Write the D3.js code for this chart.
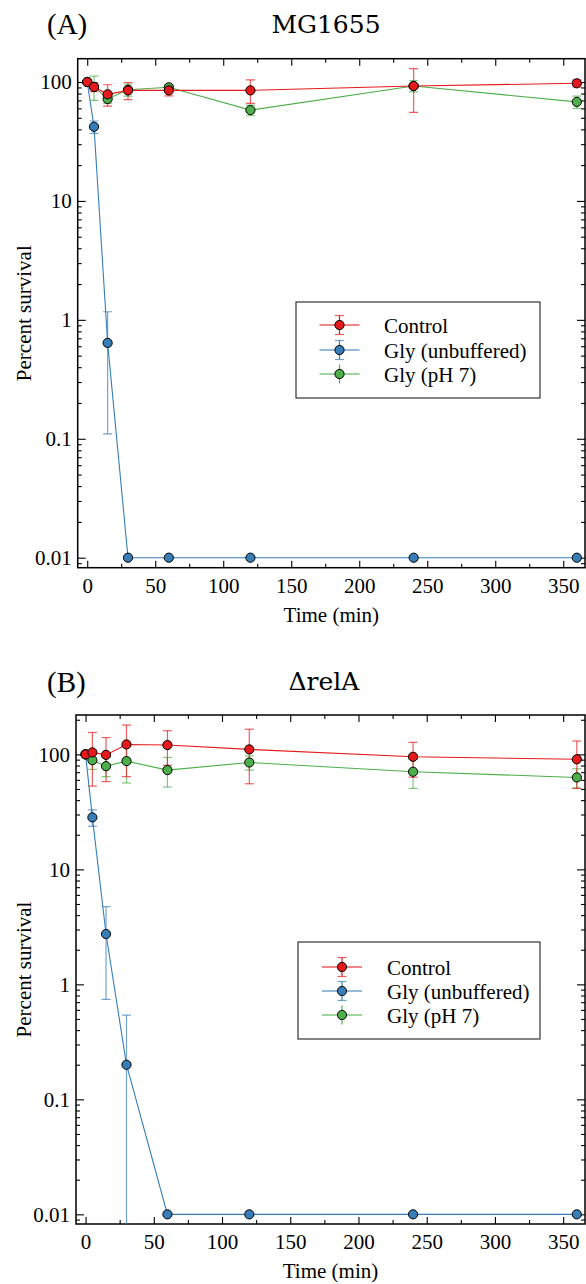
<!DOCTYPE html>
<html>
<head>
<meta charset="utf-8">
<script src="https://cdn.jsdelivr.net/npm/d3@7"></script>
<style>
  body { margin: 0; background: #fff; }
  svg { display: block; }
  text { font-family: "Liberation Serif", "Times New Roman", serif; fill: #000; }
</style>
</head>
<body>
<div id="chart"></div>
<script>
// sampling times (min)
var times = [0, 5, 15, 30, 60, 120, 240, 360];

// panel A: MG1655
var mgControl     = [100, 90.8, 78.8, 85, 85, 85, 92.5, 97.5];
var mgControlSd   = [3, 8, 16, 14, 8.5, 19, 37, 6.5];
var mgGlyUnbuf    = [100, 42, 0.64, 0.01, 0.01, 0.01, 0.01, 0.01];
var mgGlyUnbufSd  = [0, 5, 0.53, 0, 0, 0, 0, 0];
var mgGlyPh7      = [100, 91, 72, 86, 90.2, 58, 92.5, 68];
var mgGlyPh7Sd    = [0, 21, 6, 10, 5, 6, 10, 8];

// panel B: delta relA
var relControl    = [100, 104, 99, 122, 120.5, 110.5, 95.3, 90.6];
var relControlSd  = [3, 51, 41, 58, 40, 55, 32, 40];
var relGlyUnbuf   = [100, 28.3, 2.74, 0.2, 0.01, 0.01, 0.01, 0.01];
var relGlyUnbufSd = [0, 4.6, 2.0, 0.34, 0, 0, 0, 0];
var relGlyPh7     = [100, 89, 79, 87.4, 73, 85, 70.6, 63];
var relGlyPh7Sd   = [0, 15, 15, 31, 21, 12, 20, 12];

var seriesNames = ["Control", "Gly (unbuffered)", "Gly (pH 7)"];
var xTicks = [0, 50, 100, 150, 200, 250, 300, 350];
var xMinorTicks = [25, 75, 125, 175, 225, 275, 325];
var yTicks = [0.01, 0.1, 1, 10, 100];
var yTickLabels = ["0.01", "0.1", "1", "10", "100"];

var colors = ["#e41a1c", "#377eb8", "#4daf4a"];

var svg = d3.select("#chart").append("svg")
    .attr("width", 586)
    .attr("height", 1284);

var panels = [
  { tag: "(A)", title: "MG1655", left: 77.7, right: 585, top: 58.7, bottom: 567.7,
    yMax: 157, titleX: 326, titleY: 33, tagY: 34,
    legend: { x: 296, y: 302, w: 244, h: 96, rows: [325, 350, 374], mx: 339.5, tx: 384 },
    series: [[mgControl, mgControlSd], [mgGlyUnbuf, mgGlyUnbufSd], [mgGlyPh7, mgGlyPh7Sd]] },
  { tag: "(B)", title: "\u0394relA", left: 76, right: 585, top: 715, bottom: 1224,
    yMax: 220, titleX: 324, titleY: 690, tagY: 692,
    legend: { x: 298, y: 942, w: 242, h: 97, rows: [967, 991, 1015], mx: 342, tx: 387 },
    series: [[relControl, relControlSd], [relGlyUnbuf, relGlyUnbufSd], [relGlyPh7, relGlyPh7Sd]] }
];

panels.forEach(function(p, pi){

  var x = d3.scaleLinear().domain([-7, 366]).range([p.left, p.right]);
  var y = d3.scaleLog().domain([0.00824, p.yMax]).range([p.bottom, p.top]);

  var yMinor = y.ticks().filter(function(v){
      return yTicks.indexOf(+v.toPrecision(3)) < 0;
  });

  var g = svg.append("g");

  // axes, ticks pointing inward on all four sides
  function addAxis(axis, tx, ty){
    var a = g.append("g")
        .attr("transform", "translate(" + tx + "," + ty + ")")
        .call(axis);
    a.select(".domain").remove();
    a.selectAll("line").attr("stroke", "#000").attr("stroke-width", 1.1);
    a.selectAll("text")
      .style("font-family", "Liberation Serif")
      .style("font-size", "21px");
    return a;
  }

  addAxis(d3.axisBottom(x).tickValues(xTicks).tickSizeInner(-7).tickPadding(10)
      .tickFormat(function(d){ return d; }), 0, p.bottom);
  addAxis(d3.axisBottom(x).tickValues(xMinorTicks).tickSizeInner(-4).tickFormat(""), 0, p.bottom);
  addAxis(d3.axisTop(x).tickValues(xTicks).tickSizeInner(-7).tickFormat(""), 0, p.top);
  addAxis(d3.axisTop(x).tickValues(xMinorTicks).tickSizeInner(-4).tickFormat(""), 0, p.top);

  addAxis(d3.axisLeft(y).tickValues(yTicks).tickSizeInner(-8).tickPadding(6)
      .tickFormat(function(d, i){ return yTickLabels[i]; }), p.left, 0);
  addAxis(d3.axisLeft(y).tickValues(yMinor).tickSizeInner(-4).tickFormat(""), p.left, 0);
  addAxis(d3.axisRight(y).tickValues(yTicks).tickSizeInner(-8).tickFormat(""), p.right, 0);
  addAxis(d3.axisRight(y).tickValues(yMinor).tickSizeInner(-4).tickFormat(""), p.right, 0);

  // frame
  g.append("rect")
    .attr("x", p.left).attr("y", p.top)
    .attr("width", p.right - p.left).attr("height", p.bottom - p.top)
    .attr("fill", "none").attr("stroke", "#000").attr("stroke-width", 1.5);

  var clipId = "clip" + pi;
  svg.append("clipPath").attr("id", clipId)
    .append("rect")
    .attr("x", p.left).attr("y", p.top)
    .attr("width", p.right - p.left).attr("height", p.bottom - p.top);

  var plot = g.append("g").attr("clip-path", "url(#" + clipId + ")");

  var line = d3.line()
      .x(function(d){ return x(d.t); })
      .y(function(d){ return y(d.v); });

  var order = [1, 2, 0];  // blue, green, then red on top

  var seriesData = p.series.map(function(s){
    return times.map(function(t, i){ return { t: t, v: s[0][i], sd: s[1][i] }; });
  });

  order.forEach(function(si){
    var data = seriesData[si];
    var c = colors[si];

    plot.append("path")
      .datum(data)
      .attr("d", line)
      .attr("fill", "none")
      .attr("stroke", c)
      .attr("stroke-width", 1.1);

    var eb = plot.selectAll(".eb" + si)
      .data(data.filter(function(d){ return d.sd > 0; }))
      .enter().append("g")
      .attr("stroke", c)
      .attr("stroke-opacity", 0.7)
      .attr("stroke-width", 1.2);

    function yHi(d){ return y(d.v + d.sd); }
    function yLo(d){ return d.v - d.sd > 0 ? y(d.v - d.sd) : p.bottom + 2; }

    eb.append("line")
      .attr("x1", function(d){ return x(d.t); })
      .attr("x2", function(d){ return x(d.t); })
      .attr("y1", yHi)
      .attr("y2", yLo);
    eb.append("line")
      .attr("x1", function(d){ return x(d.t) - 4.5; })
      .attr("x2", function(d){ return x(d.t) + 4.5; })
      .attr("y1", yHi).attr("y2", yHi);
    eb.filter(function(d){ return d.v - d.sd > 0; })
      .append("line")
      .attr("x1", function(d){ return x(d.t) - 4.5; })
      .attr("x2", function(d){ return x(d.t) + 4.5; })
      .attr("y1", yLo).attr("y2", yLo);
  });

  order.forEach(function(si){
    g.selectAll(".dot" + si)
      .data(seriesData[si])
      .enter().append("circle")
      .attr("cx", function(d){ return x(d.t); })
      .attr("cy", function(d){ return y(d.v); })
      .attr("r", 4.6)
      .attr("fill", colors[si])
      .attr("stroke", "#000")
      .attr("stroke-width", 1);
  });

  // labels
  g.append("text")
    .attr("x", (p.left + p.right) / 2)
    .attr("y", p.bottom + 54)
    .attr("text-anchor", "middle")
    .style("font-size", "21px")
    .text("Time (min)");

  g.append("text")
    .attr("transform", "translate(31," + ((p.top + p.bottom) / 2) + ")rotate(-90)")
    .attr("text-anchor", "middle")
    .style("font-size", "21px")
    .text("Percent survival");

  g.append("text")
    .attr("x", 47).attr("y", p.tagY)
    .style("font-size", "29px")
    .text(p.tag);

  g.append("text")
    .attr("x", p.titleX).attr("y", p.titleY)
    .attr("text-anchor", "middle")
    .style("font-family", "DejaVu Serif")
    .style("font-size", "25px")
    .text(p.title);

  // legend
  var L = p.legend;
  var lg = g.append("g");
  lg.append("rect")
    .attr("x", L.x).attr("y", L.y)
    .attr("width", L.w).attr("height", L.h)
    .attr("fill", "#fff").attr("stroke", "#333").attr("stroke-width", 1.2);

  seriesNames.forEach(function(name, i){
    var ry = L.rows[i];
    var c = colors[i];
    var h = lg.append("g");
    h.append("line")
      .attr("x1", L.mx - 20).attr("x2", L.mx + 20)
      .attr("y1", ry).attr("y2", ry)
      .attr("stroke", c).attr("stroke-opacity", 0.7).attr("stroke-width", 1.4);
    h.append("line")
      .attr("x1", L.mx).attr("x2", L.mx)
      .attr("y1", ry - 9.5).attr("y2", ry + 9.5)
      .attr("stroke", c).attr("stroke-width", 1.2);
    if (i < 2) {
      [-9.5, 9.5].forEach(function(dy){
        h.append("line")
          .attr("x1", L.mx - 4.5).attr("x2", L.mx + 4.5)
          .attr("y1", ry + dy).attr("y2", ry + dy)
          .attr("stroke", c).attr("stroke-opacity", 0.7).attr("stroke-width", 1.2);
      });
    }
    h.append("circle")
      .attr("cx", L.mx).attr("cy", ry).attr("r", 4.6)
      .attr("fill", c).attr("stroke", "#000").attr("stroke-width", 1);
    lg.append("text")
      .attr("x", L.tx).attr("y", ry + 8)
      .style("font-size", "21px")
      .text(name);
  });
});
</script>
</body>
</html>
